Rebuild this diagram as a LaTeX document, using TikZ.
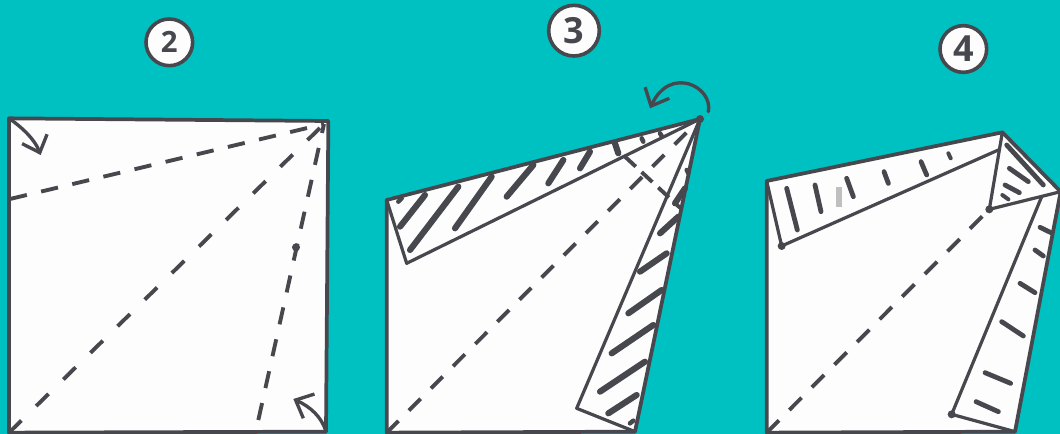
\documentclass[tikz,border=0pt]{standalone}
\usepackage{fontspec}
\setmainfont{Open Sans}
\usetikzlibrary{arrows.meta}
\definecolor{teal0}{HTML}{00C1C1}
\definecolor{paper0}{HTML}{FDFDFE}
\definecolor{ink0}{HTML}{47474E}
\tikzset{
  sheet/.style={fill=paper0,draw=ink0,line width=2.8pt,line join=round},
  edge0/.style={draw=ink0,line width=2.4pt,line join=round,line cap=round},
  crease/.style={draw=ink0,line width=2.9pt,dash pattern=on #1},
  hatch0/.style={draw=ink0,line width=#1,line cap=round},
  hatch0/.default=4.6pt,
  stepno/.style={circle,draw=ink0,line width=2.7pt,fill=paper0,inner sep=0pt,text=ink0,font=\bfseries},
  turn/.style={draw=ink0,line width=2.5pt,line cap=round,-{Straight Barb[length=11pt,width=20pt,line width=2.5pt]}},
  dot0/.style={circle,fill=ink0,inner sep=0pt,minimum size=6pt},
}
\newcommand{\hatchlist}[2][4.6pt]{\foreach \xa/\ya/\xb/\yb in {#2}{\draw[hatch0=#1] (\xa,\ya) -- (\xb,\yb);}}
\begin{document}
\begin{tikzpicture}[x=.25pt,y=-.25pt]
\useasboundingbox (0,0) rectangle (3180,1302);
\fill[teal0] (0,0) rectangle (3180,1302);

% ---------- step 2
\node[stepno,minimum size=35pt] (n2) at (508,127) {\fontsize{22}{22}\selectfont 2};
\coordinate (a1) at (27,355); \coordinate (a2) at (985,363);
\coordinate (a3) at (978,1295); \coordinate (a4) at (27,1298);
\coordinate (a5) at (30,597); \coordinate (a6) at (775,1260);
\coordinate (a7) at (972,372); \coordinate (a8) at (122,465);
\coordinate (a9) at (880,1197);
\draw[sheet] (a1) -- (a2) -- (a3) -- (a4) -- cycle;
\draw[crease={13pt off 11pt}] (a5) -- (a7);
\draw[crease={13pt off 15.5pt}] (a4) -- (a7);
\draw[crease={13pt off 11.5pt}] (a6) -- (a7);
\node[dot0] (d2) at (888,742) {};
\draw[turn] (a1) .. controls (70,385) and (105,420) .. (a8);
\draw[turn] (a3) .. controls (965,1250) and (930,1220) .. (a9);

% ---------- step 3
\begin{scope}[shift={(1110,0)}]
\node[stepno,minimum size=38pt] (n3) at (612,92) {\fontsize{27}{27}\selectfont 3};
\coordinate (b1) at (50,600); \coordinate (b2) at (990,357);
\coordinate (b3) at (795,1295); \coordinate (b4) at (50,1298);
\coordinate (b5) at (110,790); \coordinate (b6) at (620,1225);
\coordinate (b7) at (765,470); \coordinate (b8) at (932,625);
\draw[sheet] (b1) -- (b2) -- (b3) -- (b4) -- cycle;
\draw[edge0] (b1) -- (b5) -- (b2);
\draw[edge0] (b3) -- (b6) -- (b2);
\draw[crease={12.5pt off 11pt}] (b4) -- (b2);
\draw[crease={11pt off 6pt}] (b7) -- (b8);
\hatchlist{90/680/165/585,120/750/265/560,255/685/365/530,410/590/490/495,535/550/580/480,630/505/660/455,735/430/745/460,915/610/945/565,870/700/925/650,810/815/890/760,775/940/875/870,725/1060/850/975,690/1175/825/1085,715/1240/800/1185}
\hatchlist[3.4pt]{85/605/95/595,815/415/820/425,870/400/875/408,950/510/955/520,780/1270/790/1262}
\node[dot0] (d3) at (b2) {};
\coordinate (b9) at (1015,335); \coordinate (b10) at (840,325);
\draw[turn] (b9) .. controls (1030,260) and (900,195) .. (b10);
\end{scope}

% ---------- step 4
\begin{scope}[shift={(2220,0)}]
\node[stepno,minimum size=35pt] (n4) at (670,147) {\fontsize{27}{27}\selectfont 4};
\coordinate (c1) at (80,543); \coordinate (c2) at (787,397);
\coordinate (c3) at (962,575); \coordinate (c4) at (825,1295);
\coordinate (c5) at (80,1298); \coordinate (c6) at (125,738);
\coordinate (c7) at (775,450); \coordinate (c8) at (748,628);
\coordinate (c9) at (905,590); \coordinate (c10) at (635,1243);
\draw[sheet] (c1) -- (c2) -- (c3) -- (c4) -- (c5) -- cycle;
\draw[edge0] (c1) -- (c6) -- (c7);
\draw[edge0] (c2) -- (c8) -- (c3);
\draw[edge0] (c9) -- (c10) -- (c4);
\draw[crease={13pt off 11pt}] (c5) -- (c8);
\hatchlist[3.6pt]{140/565/172/690,225/555/243/635,320/535/340/590,432/515/445/550,543/485/560/525,800/435/910/555,808/505/865/545,795/555/838/578,840/850/885/878,785/965/850/1008,735/1118/812/1150,708/1205/775/1235,900/682/933/698,885/750/910/768}
\hatchlist[3pt]{625/460/632/475,787/585/805/598}
\draw[line width=4pt,draw=black!25] (297,560) -- (297,622);
\node[dot0] at (c6) {};
\node[dot0] at (c8) {};
\node[dot0] at (c10) {};
\end{scope}
\end{tikzpicture}
\end{document}
